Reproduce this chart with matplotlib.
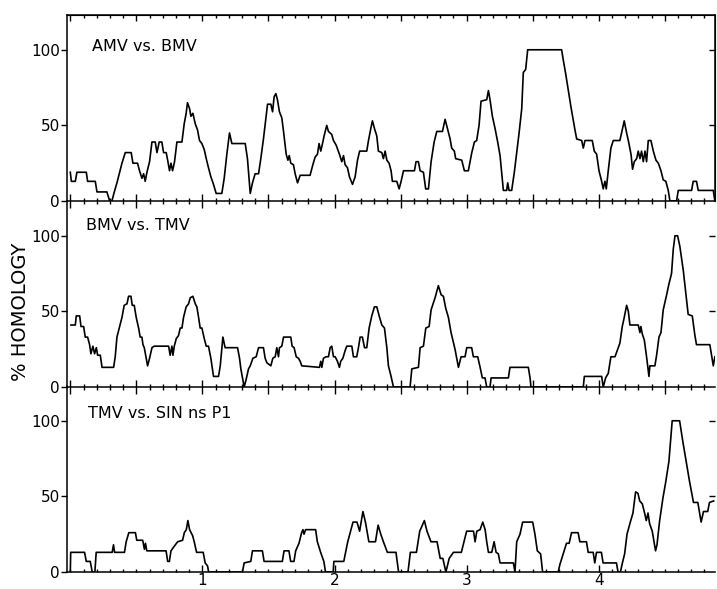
import matplotlib
matplotlib.use('Agg')
import matplotlib.pyplot as plt
from matplotlib.ticker import MultipleLocator, FixedLocator


# AMV vs. BMV (x in kb, y in % homology)
AMV_X = [0.000, 0.008, 0.038, 0.050, 0.121, 0.131, 0.189, 0.202, 0.277, 0.298, 0.315, 0.333, 0.353, 0.373, 0.391,
         0.416, 0.461, 0.474, 0.509, 0.524, 0.542, 0.555, 0.567, 0.580, 0.600, 0.618, 0.643, 0.656, 0.673, 0.693,
         0.706, 0.726, 0.739, 0.751, 0.762, 0.774, 0.789, 0.807, 0.845, 0.862, 0.877, 0.887, 0.903, 0.913, 0.928,
         0.946, 0.963, 0.978, 0.996, 1.014, 1.029, 1.046, 1.064, 1.084, 1.104, 1.147, 1.165, 1.185, 1.205, 1.223,
         1.324, 1.341, 1.362, 1.379, 1.399, 1.425, 1.442, 1.462, 1.483, 1.493, 1.518, 1.531, 1.543, 1.556, 1.568,
         1.583, 1.601, 1.614, 1.634, 1.647, 1.657, 1.669, 1.689, 1.702, 1.720, 1.740, 1.815, 1.836, 1.853, 1.871,
         1.883, 1.896, 1.909, 1.921, 1.941, 1.954, 1.979, 1.992, 2.012, 2.037, 2.055, 2.068, 2.080, 2.098, 2.113,
         2.136, 2.156, 2.174, 2.190, 2.244, 2.257, 2.277, 2.287, 2.302, 2.320, 2.332, 2.358, 2.370, 2.383, 2.396,
         2.413, 2.428, 2.438, 2.471, 2.489, 2.504, 2.522, 2.605, 2.617, 2.635, 2.648, 2.673, 2.690, 2.711, 2.731,
         2.754, 2.774, 2.817, 2.837, 2.857, 2.875, 2.887, 2.907, 2.917, 2.963, 2.983, 3.013, 3.026, 3.039, 3.059,
         3.076, 3.094, 3.109, 3.152, 3.165, 3.177, 3.195, 3.215, 3.235, 3.253, 3.265, 3.278, 3.303, 3.311, 3.321,
         3.341, 3.361, 3.379, 3.397, 3.417, 3.429, 3.447, 3.462, 3.719, 3.732, 3.750, 3.770, 3.790, 3.808, 3.820,
         3.833, 3.871, 3.883, 3.896, 3.951, 3.966, 3.984, 4.002, 4.022, 4.034, 4.047, 4.057, 4.072, 4.092, 4.110,
         4.160, 4.173, 4.193, 4.211, 4.224, 4.244, 4.256, 4.269, 4.287, 4.299, 4.312, 4.324, 4.337, 4.350, 4.362,
         4.375, 4.395, 4.413, 4.433, 4.451, 4.471, 4.488, 4.508, 4.526, 4.539, 4.589, 4.602, 4.703, 4.715, 4.740,
         4.753, 4.867, 4.879]
AMV_Y = [19, 13, 13, 19, 19, 13, 13, 6, 6, 0, 0, 6, 12, 19, 25,
         32, 32, 25, 25, 20, 15, 18, 13, 19, 26, 39, 39, 32, 39, 39,
         32, 32, 26, 20, 25, 20, 26, 39, 39, 51, 58, 65, 61, 56, 58,
         51, 47, 40, 38, 34, 28, 22, 16, 11, 5, 5, 15, 31, 45, 38,
         38, 28, 5, 12, 18, 18, 28, 41, 57, 64, 64, 59, 69, 71, 67,
         59, 55, 46, 31, 27, 30, 25, 24, 18, 12, 17, 17, 24, 29, 31,
         38, 33, 38, 43, 50, 46, 44, 40, 37, 31, 26, 30, 24, 22, 16,
         11, 16, 27, 33, 33, 40, 49, 53, 48, 43, 33, 32, 28, 33, 27,
         25, 20, 13, 13, 8, 13, 20, 20, 26, 26, 20, 19, 8, 8, 26,
         39, 46, 46, 54, 47, 41, 35, 33, 28, 27, 20, 20, 26, 32, 39,
         40, 50, 66, 67, 73, 67, 56, 48, 39, 30, 19, 7, 7, 12, 7,
         7, 19, 32, 45, 61, 85, 87, 100, 100, 93, 84, 73, 62, 53, 47,
         41, 40, 35, 40, 40, 33, 31, 20, 13, 8, 13, 8, 20, 35, 40,
         40, 45, 53, 45, 40, 31, 21, 26, 28, 33, 28, 33, 26, 33, 26,
         40, 40, 33, 27, 25, 20, 14, 13, 7, 0, 0, 7, 7, 13, 13,
         7, 7, 0]

# BMV vs. TMV
BMV_X = [0.005, 0.038, 0.045, 0.071, 0.081, 0.101, 0.113, 0.131, 0.146, 0.156, 0.171, 0.184, 0.197, 0.207, 0.227,
         0.240, 0.328, 0.340, 0.353, 0.373, 0.391, 0.408, 0.429, 0.441, 0.459, 0.469, 0.484, 0.499, 0.517, 0.529,
         0.542, 0.550, 0.560, 0.575, 0.585, 0.600, 0.618, 0.635, 0.744, 0.756, 0.769, 0.777, 0.787, 0.802, 0.819,
         0.832, 0.845, 0.857, 0.877, 0.895, 0.908, 0.928, 0.946, 0.958, 0.971, 0.983, 0.996, 1.014, 1.029, 1.046,
         1.064, 1.084, 1.122, 1.135, 1.155, 1.172, 1.266, 1.281, 1.291, 1.306, 1.316, 1.331, 1.349, 1.362, 1.382,
         1.407, 1.425, 1.462, 1.475, 1.488, 1.518, 1.533, 1.551, 1.563, 1.576, 1.583, 1.601, 1.614, 1.669, 1.679,
         1.694, 1.710, 1.727, 1.740, 1.752, 1.886, 1.896, 1.904, 1.916, 1.936, 1.954, 1.967, 1.979, 1.992, 2.005,
         2.022, 2.037, 2.047, 2.063, 2.080, 2.093, 2.131, 2.143, 2.168, 2.181, 2.194, 2.211, 2.227, 2.244, 2.262,
         2.282, 2.302, 2.320, 2.338, 2.358, 2.378, 2.396, 2.408, 2.428, 2.446, 2.572, 2.585, 2.635, 2.648, 2.673,
         2.691, 2.716, 2.731, 2.761, 2.786, 2.807, 2.824, 2.842, 2.862, 2.882, 2.912, 2.938, 2.958, 2.988, 3.001,
         3.038, 3.051, 3.084, 3.102, 3.119, 3.139, 3.152, 3.177, 3.185, 3.316, 3.328, 3.467, 3.480, 3.487, 3.883,
         3.891, 4.022, 4.034, 4.052, 4.072, 4.092, 4.123, 4.160, 4.178, 4.193, 4.211, 4.224, 4.236, 4.299, 4.312,
         4.319, 4.330, 4.345, 4.362, 4.380, 4.387, 4.425, 4.438, 4.456, 4.471, 4.488, 4.514, 4.531, 4.551, 4.564,
         4.577, 4.597, 4.614, 4.640, 4.677, 4.708, 4.728, 4.740, 4.841, 4.854, 4.867, 4.879]
BMV_Y = [41, 41, 47, 47, 40, 40, 33, 33, 28, 22, 27, 22, 26, 21, 21,
         13, 13, 20, 33, 40, 46, 54, 55, 60, 60, 54, 54, 46, 39, 33,
         33, 28, 26, 19, 14, 19, 26, 27, 27, 21, 27, 21, 27, 32, 34,
         39, 39, 46, 53, 55, 59, 60, 55, 53, 46, 39, 39, 32, 27, 27,
         19, 7, 7, 14, 33, 26, 26, 19, 12, 5, 0, 5, 12, 14, 19,
         20, 26, 26, 19, 16, 14, 19, 20, 26, 20, 26, 27, 33, 33, 27,
         26, 20, 19, 17, 14, 13, 17, 13, 19, 20, 20, 26, 27, 20, 20,
         17, 13, 17, 19, 24, 27, 27, 20, 20, 26, 33, 33, 26, 26, 39,
         47, 53, 53, 47, 41, 39, 26, 14, 7, 0, 0, 12, 13, 26, 27,
         39, 40, 51, 59, 67, 61, 60, 52, 46, 36, 25, 13, 20, 20, 26,
         26, 20, 20, 13, 6, 6, 0, 0, 6, 6, 13, 13, 6, 0, 0,
         7, 7, 0, 6, 9, 20, 20, 29, 40, 46, 54, 50, 41, 41, 36,
         40, 35, 31, 20, 7, 14, 14, 21, 33, 36, 51, 61, 68, 75, 91,
         100, 100, 93, 77, 48, 47, 34, 28, 28, 21, 14, 20]

# TMV vs. SIN ns P1
SIN_X = [0.000, 0.003, 0.108, 0.121, 0.151, 0.166, 0.186, 0.196, 0.317, 0.327, 0.335, 0.410, 0.423, 0.443, 0.493,
         0.503, 0.548, 0.561, 0.569, 0.579, 0.725, 0.737, 0.750, 0.762, 0.795, 0.813, 0.850, 0.863, 0.878, 0.890,
         0.903, 0.926, 0.938, 0.956, 1.006, 1.021, 1.039, 1.047, 1.303, 1.316, 1.366, 1.379, 1.454, 1.467, 1.605,
         1.618, 1.655, 1.668, 1.693, 1.706, 1.731, 1.751, 1.761, 1.769, 1.781, 1.857, 1.870, 1.895, 1.919, 1.932,
         1.990, 1.995, 2.070, 2.100, 2.140, 2.170, 2.190, 2.215, 2.234, 2.260, 2.310, 2.330, 2.350, 2.370, 2.400,
         2.465, 2.485, 2.556, 2.574, 2.620, 2.645, 2.680, 2.700, 2.730, 2.776, 2.800, 2.820, 2.843, 2.868, 2.900,
         2.960, 2.980, 3.000, 3.052, 3.064, 3.077, 3.102, 3.122, 3.140, 3.152, 3.165, 3.190, 3.208, 3.223, 3.240,
         3.253, 3.354, 3.366, 3.379, 3.404, 3.424, 3.500, 3.517, 3.535, 3.560, 3.575, 3.693, 3.706, 3.731, 3.756,
         3.776, 3.794, 3.844, 3.857, 3.907, 3.920, 3.958, 3.970, 3.983, 4.020, 4.033, 4.134, 4.146, 4.164, 4.179,
         4.196, 4.214, 4.239, 4.259, 4.279, 4.297, 4.310, 4.330, 4.347, 4.360, 4.373, 4.385, 4.405, 4.430, 4.441,
         4.461, 4.486, 4.506, 4.531, 4.556, 4.612, 4.637, 4.662, 4.687, 4.717, 4.750, 4.775, 4.793, 4.825, 4.838,
         4.870]
SIN_Y = [0, 13, 13, 7, 7, 0, 0, 13, 13, 18, 13, 13, 20, 26, 26,
         21, 21, 15, 19, 14, 14, 7, 7, 14, 18, 20, 21, 26, 28, 34,
         28, 24, 20, 13, 13, 6, 4, 0, 0, 6, 7, 14, 14, 7, 7,
         14, 14, 7, 7, 14, 19, 26, 28, 25, 28, 28, 20, 13, 7, 0,
         0, 7, 7, 20, 33, 33, 27, 40, 33, 20, 20, 31, 25, 20, 13,
         13, 0, 0, 13, 13, 27, 34, 27, 20, 20, 9, 9, 0, 9, 13,
         13, 20, 27, 27, 20, 27, 28, 33, 28, 20, 13, 13, 20, 13, 12,
         6, 6, 0, 20, 25, 33, 33, 25, 14, 12, 0, 0, 5, 12, 19,
         19, 26, 26, 20, 20, 13, 13, 6, 13, 13, 6, 6, 0, 0, 6,
         12, 25, 33, 39, 53, 52, 47, 45, 39, 34, 39, 32, 27, 14, 18,
         34, 49, 59, 73, 100, 100, 86, 73, 60, 46, 46, 33, 40, 40, 46,
         47]

PANELS = [
    ('AMV vs. BMV', AMV_X, AMV_Y, (0.166, 102)),
    ('BMV vs. TMV', BMV_X, BMV_Y, (0.12, 107)),
    ('TMV vs. SIN ns P1', SIN_X, SIN_Y, (0.136, 105)),
]

XLIM = (-0.025, 4.88)
YLIM = (0, 123)


def style_panel(ax, first, last):
    ax.set_xlim(*XLIM)
    ax.set_ylim(*YLIM)
    ax.patch.set_visible(False)
    for side in ['left', 'bottom', 'top', 'right']:
        ax.spines[side].set_linewidth(1.1)
    if not first:
        ax.spines['top'].set_visible(False)
        ax.spines['right'].set_visible(False)

    ax.set_yticks([0, 50, 100])
    ax.set_yticklabels(['0', '50', '100'], fontsize=11)
    ax.tick_params(axis='y', direction='out', length=4, width=1, pad=1)

    if last:
        ax.xaxis.set_major_locator(FixedLocator([1, 2, 3, 4]))
        ax.xaxis.set_minor_locator(MultipleLocator(0.1))
        ax.set_xticklabels(['1', '2', '3', '4'], fontsize=11)
        ax.tick_params(axis='x', which='major', direction='in', length=5, width=1, pad=1)
        ax.tick_params(axis='x', which='minor', direction='in', length=2.5, width=1)
    else:
        ax.xaxis.set_major_locator(MultipleLocator(0.5))
        ax.xaxis.set_minor_locator(MultipleLocator(0.1))
        ax.tick_params(axis='x', which='major', direction='inout', length=10, width=1, labelbottom=False)
        ax.tick_params(axis='x', which='minor', direction='inout', length=4.5, width=1)

    if first:
        top = ax.secondary_xaxis('top')
        top.xaxis.set_major_locator(MultipleLocator(0.5))
        top.xaxis.set_minor_locator(MultipleLocator(0.1))
        top.tick_params(which='major', direction='in', length=4, width=1, labeltop=False)
        top.tick_params(which='minor', direction='in', length=2.5, width=1)

    right = ax.secondary_yaxis('right')
    right.set_yticks([50, 100])
    right.tick_params(direction='in', length=4, width=1, labelright=False)
    if not first:
        right.spines['right'].set_visible(False)


fig = plt.figure(figsize=(7.17, 5.89), dpi=100)

left, width = 67 / 717, 648 / 717
bottoms = [1 - 201 / 589, 1 - 387 / 589, 1 - 572 / 589]
height = 186 / 589

for i, (label, xs, ys, (tx, ty)) in enumerate(PANELS):
    ax = fig.add_axes([left, bottoms[i], width, height])
    ax.plot(xs, ys, color='black', linewidth=1.2)
    ax.text(tx, ty, label, fontsize=11.5, va='center', ha='left')
    style_panel(ax, first=(i == 0), last=(i == 2))

fig.text(0.028, 0.47, '% HOMOLOGY', rotation=90, fontsize=14, va='center', ha='center')

fig.savefig('out.png', dpi=100, facecolor='white')
